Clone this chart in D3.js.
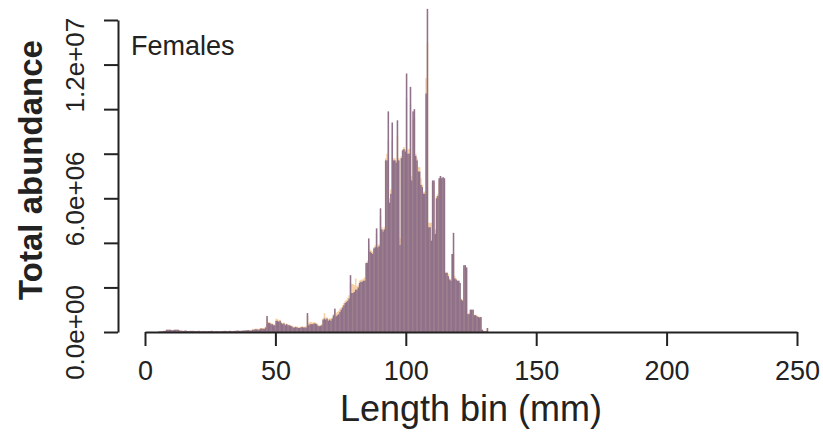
<!DOCTYPE html>
<html>
<head>
<meta charset="utf-8">
<script src="https://cdn.jsdelivr.net/npm/d3@7"></script>
<style>
  body { margin: 0; background: #fff; }
  text { font-family: "Liberation Sans", Arial, sans-serif; }
</style>
</head>
<body>
<svg id="chart" width="823" height="436"></svg>
<script>
// length bins: 0.5 mm wide, first bin starts at 5 mm
const binStart = 5;
const binWidth = 0.5;

// total abundance per bin, in millions (purple series, drawn on top)
const purpleVals = [
  0.02,0.02,0.03,0.03,0.05,0.05,0.10,0.10,0.10,0.10,
  0.08,0.08,0.10,0.10,0.10,0.10,0.06,0.06,0.05,0.05,
  0.06,0.06,0.04,0.04,0.05,0.05,0.05,0.05,0.04,0.04,
  0.05,0.05,0.03,0.03,0.04,0.04,0.03,0.03,0.04,0.04,
  0.05,0.05,0.03,0.03,0.04,0.04,0.03,0.03,0.04,0.04,
  0.05,0.05,0.04,0.04,0.05,0.05,0.04,0.04,0.05,0.05,
  0.06,0.06,0.05,0.05,0.06,0.06,0.07,0.07,0.08,0.08,
  0.06,0.06,0.10,0.10,0.12,0.12,0.10,0.10,0.15,0.15,
  0.14,0.14,0.20,0.72,0.40,0.40,0.35,0.35,0.30,0.30,
  0.50,0.50,0.45,0.50,0.40,0.35,0.38,0.30,0.35,0.30,
  0.30,0.28,0.25,0.20,0.20,0.22,0.20,0.18,0.18,0.20,
  0.22,0.20,0.20,0.20,0.85,0.30,0.35,0.35,0.35,0.38,
  0.38,0.35,0.28,0.25,0.27,0.30,0.55,0.60,0.55,0.60,
  0.50,0.55,0.50,0.60,0.75,1.05,0.70,0.75,0.80,0.90,
  1.00,1.10,1.20,1.30,1.35,1.40,1.50,2.55,1.75,1.75,
  1.80,1.90,1.90,2.00,2.20,2.25,2.25,2.30,2.30,3.10,
  3.10,4.20,3.60,3.55,3.50,3.75,3.80,4.65,3.80,3.85,
  5.55,4.60,4.50,4.60,7.70,7.70,9.90,5.80,6.20,9.40,
  7.70,7.70,7.60,9.50,7.70,3.90,7.80,8.15,8.20,8.10,
  11.6,8.00,8.00,11.0,6.80,9.90,10.0,7.90,7.70,7.20,
  7.20,6.60,6.50,6.20,6.20,10.7,14.5,4.70,4.70,4.10,
  6.80,6.80,4.40,6.00,6.10,6.90,7.00,6.90,6.95,6.90,
  2.65,2.65,2.50,2.35,2.30,3.50,4.45,2.40,2.35,2.30,
  2.30,2.20,1.45,1.40,3.00,3.00,2.90,0.80,0.80,1.00,
  1.00,1.00,0.75,0.75,0.70,0.67,0.65,0.67,0.10,0.05,
  0.02,0.05,0.18,0.00
];

// second series (light orange, drawn underneath), in millions
const orangeVals = [
  0.02,0.02,0.03,0.03,0.05,0.05,0.10,0.10,0.10,0.10,
  0.08,0.08,0.10,0.10,0.10,0.10,0.06,0.06,0.05,0.05,
  0.06,0.06,0.04,0.04,0.05,0.05,0.05,0.05,0.04,0.04,
  0.05,0.05,0.03,0.03,0.04,0.04,0.03,0.03,0.04,0.04,
  0.05,0.05,0.03,0.03,0.04,0.04,0.03,0.03,0.04,0.04,
  0.05,0.05,0.04,0.04,0.05,0.05,0.04,0.04,0.05,0.05,
  0.06,0.06,0.05,0.05,0.06,0.06,0.07,0.07,0.08,0.08,
  0.08,0.08,0.12,0.12,0.15,0.15,0.14,0.14,0.18,0.18,
  0.18,0.20,0.25,0.60,0.45,0.45,0.40,0.38,0.34,0.34,
  0.60,0.58,0.52,0.55,0.45,0.40,0.42,0.36,0.38,0.34,
  0.33,0.30,0.28,0.24,0.24,0.26,0.24,0.22,0.22,0.25,
  0.26,0.24,0.24,0.26,0.70,0.40,0.45,0.45,0.42,0.44,
  0.42,0.40,0.32,0.30,0.32,0.36,0.62,0.85,0.65,0.66,
  0.58,0.62,0.60,0.66,0.80,0.95,0.85,0.90,0.95,1.05,
  1.10,1.20,1.30,1.40,1.45,1.55,1.65,2.20,2.15,2.15,
  2.10,2.40,2.05,2.10,2.30,2.35,2.35,2.40,2.45,3.00,
  3.20,3.90,3.70,3.65,3.60,3.80,3.90,4.40,3.90,3.95,
  5.20,4.70,4.60,4.70,7.80,8.00,8.60,6.00,6.40,8.60,
  7.80,7.80,7.70,8.80,7.80,4.20,7.90,8.20,8.30,8.20,
  10.5,8.20,8.20,10.2,7.00,9.50,9.60,8.00,7.80,7.40,
  7.40,6.90,6.60,6.30,6.30,11.4,13.0,4.90,4.90,4.90,
  6.70,6.70,4.60,6.10,6.20,6.80,7.00,6.80,6.90,6.80,
  2.70,2.70,2.60,2.40,2.35,3.50,3.50,2.50,2.40,2.30,
  2.30,2.20,1.50,1.45,2.90,2.90,2.80,0.85,0.85,1.00,
  1.00,1.00,0.78,0.78,0.72,0.70,0.68,0.68,0.12,0.06,
  0.03,0.05,0.15,0.00
];

const xTicks = [0, 50, 100, 150, 200, 250];
const yTicks = [0, 2, 4, 6, 8, 10, 12, 14];   // millions
const yTickLabels = [0, 6, 12];               // R drops the overlapping ones

const svg = d3.select("#chart");

const x = d3.scaleLinear().domain([0, 250]).range([145, 797]);
const y = d3.scaleLinear().domain([0, 14]).range([332, 20]);

// R style "1.2e+07"
const sci = v => {
  if (v === 0) return "0.0e+00";
  const n = v * 1e6;
  const e = Math.floor(Math.log10(n));
  return (n / Math.pow(10, e)).toFixed(1) + "e+" + String(e).padStart(2, "0");
};

const bins = purpleVals.map((v, i) => ({
  len: binStart + i * binWidth,
  purple: v,
  orange: orangeVals[i]
}));

const barW = x(binWidth) - x(0);

svg.append("g").selectAll("rect")
  .data(bins)
  .enter()
  .append("rect")
    .attr("x", d => x(d.len))
    .attr("width", barW + 0.25)
    .attr("y", d => y(d.orange))
    .attr("height", d => y(0) - y(d.orange))
    .attr("fill", "#f4c088")
    .attr("fill-opacity", 0.75);

svg.append("g").selectAll("rect")
  .data(bins)
  .enter()
  .append("rect")
    .attr("x", d => x(d.len))
    .attr("width", barW + 0.25)
    .attr("y", d => y(d.purple))
    .attr("height", d => y(0) - y(d.purple))
    .attr("fill", "#8f7189");

// x axis
const xAxis = svg.append("g")
  .attr("transform", "translate(0,332)")
  .call(d3.axisBottom(x).tickValues(xTicks).tickSize(14).tickSizeOuter(0).tickPadding(15));
xAxis.select(".domain").attr("stroke", "#222").attr("stroke-width", 2);
xAxis.selectAll(".tick line").attr("stroke", "#222").attr("stroke-width", 2);
xAxis.selectAll(".tick text")
  .attr("font-size", 27)
  .attr("fill", "#222")
  .style("font-family", "'Liberation Sans', Arial, sans-serif");

// y axis
const yAxis = svg.append("g")
  .attr("transform", "translate(118,0)")
  .call(d3.axisLeft(y).tickValues(yTicks).tickSize(14).tickSizeOuter(0)
    .tickFormat(d => yTickLabels.includes(d) ? sci(d) : ""));
yAxis.select(".domain").attr("stroke", "#222").attr("stroke-width", 2);
yAxis.selectAll(".tick line").attr("stroke", "#222").attr("stroke-width", 2);
yAxis.selectAll(".tick text")
  .attr("x", null)
  .attr("dy", null)
  .attr("text-anchor", "middle")
  .attr("transform", "translate(-34,0) rotate(-90)")
  .attr("font-size", 26)
  .attr("fill", "#222")
  .style("font-family", "'Liberation Sans', Arial, sans-serif");

// titles
svg.append("text")
  .attr("transform", "translate(42,170) rotate(-90)")
  .attr("text-anchor", "middle")
  .attr("font-size", 33)
  .attr("font-weight", "bold")
  .attr("fill", "#222")
  .text("Total abundance");

svg.append("text")
  .attr("x", 471)
  .attr("y", 421)
  .attr("text-anchor", "middle")
  .attr("font-size", 36)
  .attr("fill", "#222")
  .text("Length bin (mm)");

svg.append("text")
  .attr("x", 131)
  .attr("y", 55)
  .attr("font-size", 27)
  .attr("fill", "#222")
  .text("Females");
</script>
</body>
</html>
